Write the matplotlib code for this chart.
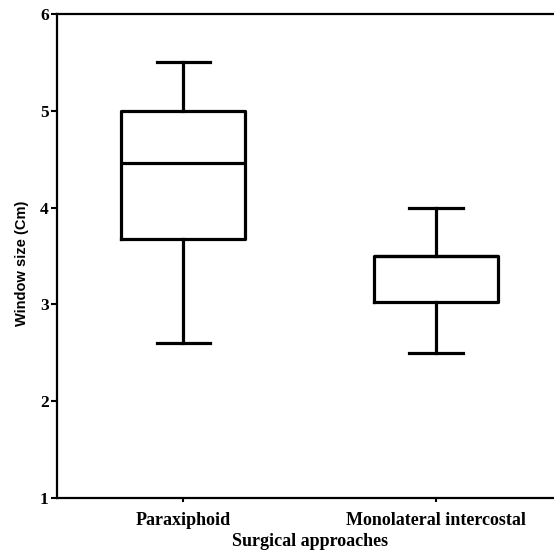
import matplotlib.pyplot as plt

# box statistics (window size, cm)
groups = ['Paraxiphoid', 'Monolateral intercostal']
whis_low = [2.6, 2.5]
q1 = [3.67, 3.02]
median = [4.46, 3.5]
q3 = [5.0, 3.5]
whis_high = [5.5, 4.0]

stats = []
for i, name in enumerate(groups):
    stats.append({'label': name, 'whislo': whis_low[i], 'q1': q1[i], 'med': median[i],
                  'q3': q3[i], 'whishi': whis_high[i], 'fliers': []})

serif = {'family': 'Liberation Serif', 'weight': 'bold'}

fig = plt.figure(figsize=(5.54, 5.54), dpi=100)
ax = fig.add_axes([0.103, 0.101, 0.912, 0.874])

line = dict(color='black', linewidth=2.3)
ax.bxp(stats, positions=[0, 1], widths=0.49, showfliers=False,
       boxprops=line, whiskerprops=line, capprops=line, medianprops=line,
       capwidths=0.21)

ax.set_xlim(-0.5, 1.5)
ax.set_ylim(1, 6)
ax.set_yticks([1, 2, 3, 4, 5, 6])
ax.set_xticks([0, 1])
ax.set_xticklabels(groups, fontdict=serif, fontsize=13)
for lab in ax.get_yticklabels():
    lab.set_fontfamily('Liberation Serif')
    lab.set_fontweight('bold')
    lab.set_fontsize(12.5)

ax.spines['right'].set_visible(False)
for s in ['top', 'bottom', 'left']:
    ax.spines[s].set_linewidth(1.6)
ax.tick_params(axis='y', direction='out', length=4, width=1.5, pad=2)
ax.tick_params(axis='x', direction='out', length=3, width=1.5, pad=7)

ax.set_xlabel('Surgical approaches', fontdict=serif, fontsize=13, labelpad=3)
ax.set_ylabel('Window size (Cm)', family='Liberation Sans', weight='bold', fontsize=10.5)
ax.yaxis.set_label_coords(-0.055, 0.485)

plt.savefig('out.png', dpi=100)
